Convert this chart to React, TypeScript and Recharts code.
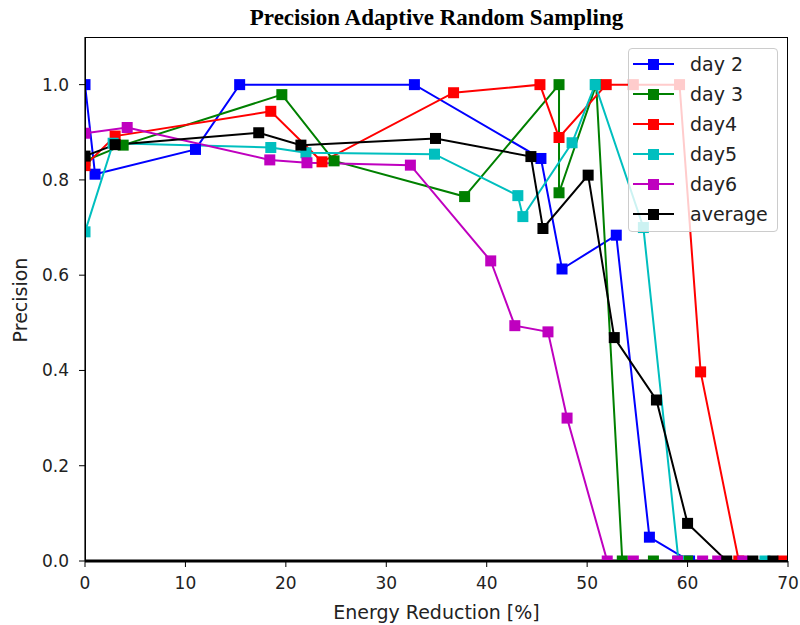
import React from "react";
import { LineChart, Line, XAxis, YAxis, ReferenceLine } from "recharts";

const font = '"DejaVu Sans", sans-serif';

const xTicks = [0, 10, 20, 30, 40, 50, 60, 70];
const yTicks = [0, 0.2, 0.4, 0.6, 0.8, 1.0];

// energy reduction [%] and precision per series
const day2X = [0, 1.0, 11.0, 15.4, 32.8, 45.4, 47.5, 52.9, 56.2, 60.2];
const day2Y = [1.0, 0.812, 0.864, 1.0, 1.0, 0.845, 0.613, 0.684, 0.05, 0];

const day3X = [0, 3.8, 19.6, 24.8, 37.8, 47.2, 47.2, 50.9, 53.5, 56.6, 60.0];
const day3Y = [0.84, 0.873, 0.979, 0.84, 0.765, 1.0, 0.773, 1.0, 0, 0, 0];

const day4X = [0, 3.0, 18.5, 23.6, 36.7, 45.3, 47.2, 51.9, 54.6, 59.2, 61.3, 65.1, 69.5];
const day4Y = [0.83, 0.892, 0.944, 0.838, 0.983, 1.0, 0.889, 1.0, 1.0, 1.0, 0.397, 0, 0];

const day5X = [0, 2.8, 18.5, 22.0, 34.8, 43.1, 43.6, 48.5, 50.8, 55.6, 59.1, 67.7];
const day5Y = [0.691, 0.877, 0.868, 0.857, 0.854, 0.767, 0.723, 0.878, 1.0, 0.7, 0, 0];

const day6X = [0, 4.2, 18.4, 22.1, 32.4, 40.4, 42.8, 46.1, 48.0, 52.0, 54.6, 59.0, 61.5, 63.0, 65.5];
const day6Y = [0.898, 0.91, 0.842, 0.836, 0.831, 0.63, 0.494, 0.481, 0.3, 0, 0, 0, 0, 0, 0];

const avgX = [0, 3.0, 17.3, 21.5, 34.9, 44.4, 45.6, 50.1, 52.7, 56.9, 60.0, 63.9, 66.5, 68.5];
const avgY = [0.85, 0.874, 0.899, 0.873, 0.887, 0.849, 0.698, 0.81, 0.469, 0.338, 0.079, 0, 0, 0];

const toPoints = (xs: number[], ys: number[]) => xs.map((x, i) => ({ x, y: ys[i] }));

const series = [
  { name: "day 2", color: "#0000ff", data: toPoints(day2X, day2Y) },
  { name: "day 3", color: "#008000", data: toPoints(day3X, day3Y) },
  { name: "day4", color: "#ff0000", data: toPoints(day4X, day4Y) },
  { name: "day5", color: "#00bfbf", data: toPoints(day5X, day5Y) },
  { name: "day6", color: "#bf00bf", data: toPoints(day6X, day6Y) },
  { name: "average", color: "#000000", data: toPoints(avgX, avgY) },
];

const squareDot = (color: string, id: string) => (props: any) => {
  const { cx, cy, index } = props;
  if (cx == null || cy == null) return <g key={`${id}-${index}`} />;
  return <rect key={`${id}-${index}`} x={cx - 5.5} y={cy - 5.5} width={11} height={11} fill={color} />;
};

export default function App() {
  return (
    <div style={{ position: "absolute", left: 0, top: 0, width: 800, height: 625, background: "#fff" }}>
      <LineChart width={800} height={625} margin={{ top: 37, right: 12, bottom: 24, left: 25 }}>
        <XAxis
          type="number"
          dataKey="x"
          domain={[0, 70]}
          ticks={xTicks}
          allowDataOverflow
          height={40}
          tickSize={6}
          tickMargin={10}
          tick={{ fontSize: 17, fill: "#222", fontFamily: font }}
          axisLine={{ stroke: "#000", strokeWidth: 1.2 }}
          tickLine={{ stroke: "#000" }}
        />
        <YAxis
          type="number"
          dataKey="y"
          domain={[0, 1.1]}
          ticks={yTicks}
          allowDataOverflow
          width={60}
          tickSize={6}
          tickMargin={10}
          tickFormatter={(v: number) => v.toFixed(1)}
          tick={{ fontSize: 17, fill: "#222", fontFamily: font }}
          axisLine={{ stroke: "#000", strokeWidth: 1.2 }}
          tickLine={{ stroke: "#000" }}
        />
        <ReferenceLine y={0} stroke="#000" strokeWidth={3} />
        {series.map((s) => (
          <Line
            key={s.name}
            data={s.data}
            dataKey="y"
            name={s.name}
            stroke={s.color}
            strokeWidth={2}
            dot={squareDot(s.color, s.name)}
            activeDot={false}
            isAnimationActive={false}
          />
        ))}
      </LineChart>

      {/* frame */}
      <div
        style={{
          position: "absolute",
          left: 85,
          top: 37,
          width: 703,
          height: 524,
          border: "1.2px solid #000",
          boxSizing: "border-box",
          pointerEvents: "none",
        }}
      />

      {/* title */}
      <div
        style={{
          position: "absolute",
          left: 0,
          top: 6,
          width: 873,
          textAlign: "center",
          fontFamily: '"Liberation Serif", serif',
          fontWeight: "bold",
          fontSize: 23,
          lineHeight: "23px",
          color: "#000",
        }}
      >
        Precision Adaptive Random Sampling
      </div>

      {/* axis labels */}
      <div
        style={{
          position: "absolute",
          left: 0,
          top: 603,
          width: 873,
          textAlign: "center",
          fontFamily: font,
          fontSize: 19,
          lineHeight: "19px",
          color: "#222",
        }}
      >
        Energy Reduction [%]
      </div>
      <div
        style={{
          position: "absolute",
          left: 20,
          top: 300,
          transform: "translate(-50%, -50%) rotate(-90deg)",
          fontFamily: font,
          fontSize: 19,
          lineHeight: "19px",
          whiteSpace: "nowrap",
          color: "#222",
        }}
      >
        Precision
      </div>

      {/* legend */}
      <div
        style={{
          position: "absolute",
          left: 628,
          top: 48,
          width: 150,
          height: 184,
          boxSizing: "border-box",
          border: "1px solid #ccc",
          borderRadius: 4,
          background: "rgba(255,255,255,0.8)",
        }}
      >
        {series.map((s) => (
          <div key={s.name} style={{ position: "relative", height: 30 }}>
            <div style={{ position: "absolute", left: 4, top: 14, width: 41, height: 2, background: s.color }} />
            <div style={{ position: "absolute", left: 19, top: 9.5, width: 11, height: 11, background: s.color }} />
            <div
              style={{
                position: "absolute",
                left: 61,
                top: 0,
                fontFamily: font,
                fontSize: 19,
                lineHeight: "30px",
                color: "#222",
                whiteSpace: "nowrap",
              }}
            >
              {s.name}
            </div>
          </div>
        ))}
      </div>
    </div>
  );
}
